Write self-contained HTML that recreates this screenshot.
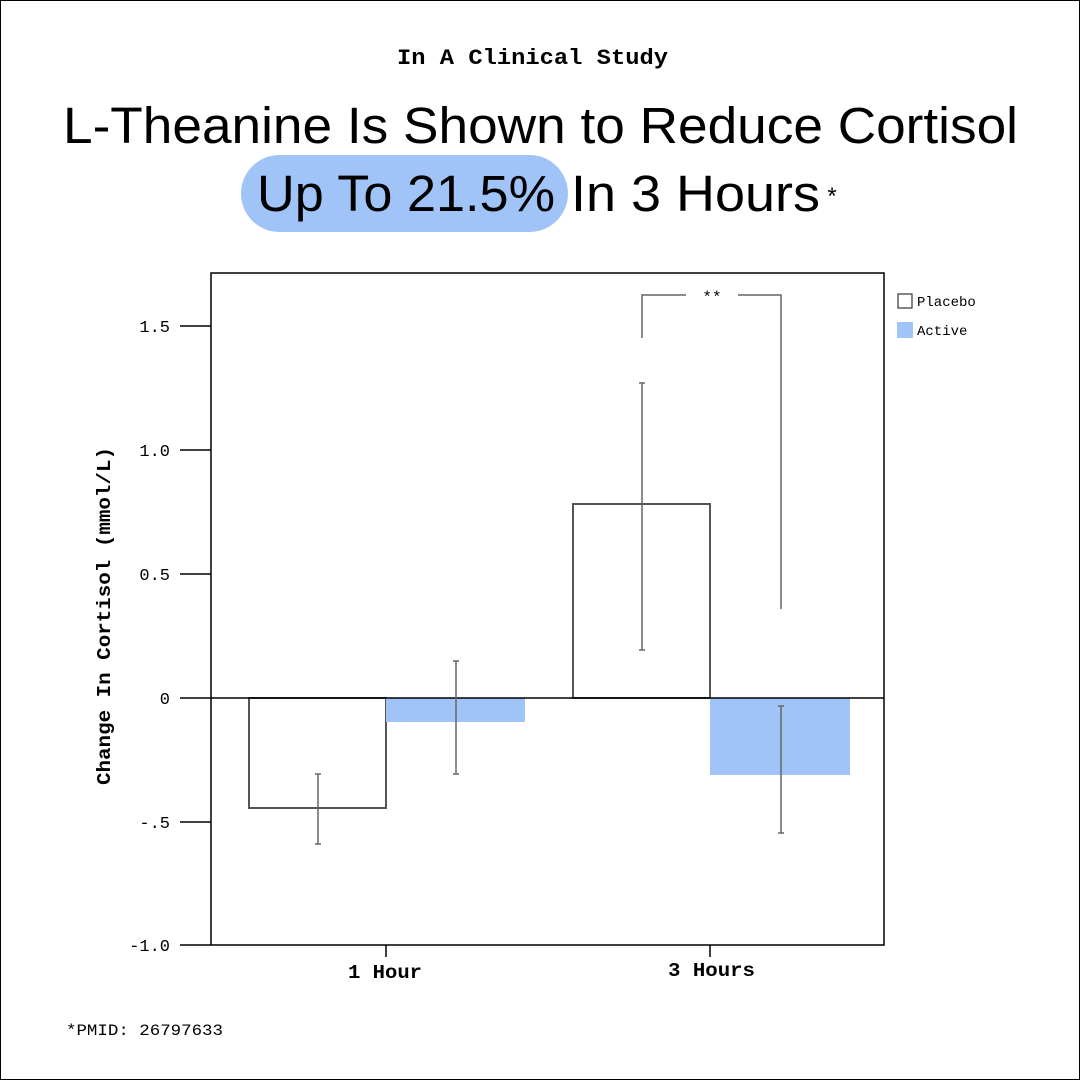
<!DOCTYPE html>
<html><head><meta charset="utf-8"><style>
html,body{margin:0;padding:0;background:#fff}
body{width:1080px;height:1080px;overflow:hidden}
</style></head><body>
<svg width="1080" height="1080" viewBox="0 0 1080 1080" xmlns="http://www.w3.org/2000/svg">
<rect x="0.5" y="0.5" width="1079" height="1079" fill="#fff" stroke="#000" stroke-width="1"/>
<text x="397" y="64" textLength="271" lengthAdjust="spacingAndGlyphs" font-family="Liberation Mono, monospace" font-weight="bold" font-size="22">In A Clinical Study</text>
<text x="63" y="143" textLength="955" lengthAdjust="spacingAndGlyphs" font-family="Liberation Sans, sans-serif" font-size="51">L-Theanine Is Shown to Reduce Cortisol</text>
<rect x="241" y="155" width="327" height="77" rx="38.5" fill="#a0c4f8"/>
<text x="257" y="211" textLength="298" lengthAdjust="spacingAndGlyphs" font-family="Liberation Sans, sans-serif" font-size="51">Up To 21.5%</text>
<text x="571" y="211" textLength="249" lengthAdjust="spacingAndGlyphs" font-family="Liberation Sans, sans-serif" font-size="51">In 3 Hours</text>
<text x="832" y="204" text-anchor="middle" font-family="Liberation Sans, sans-serif" font-size="24">*</text>

<rect x="249" y="698" width="137" height="110" fill="#fff" stroke="#555" stroke-width="2"/>
<rect x="386" y="698" width="139" height="24" fill="#a0c4f8"/>
<rect x="573" y="504" width="137" height="194" fill="#fff" stroke="#555" stroke-width="2"/>
<rect x="710" y="698" width="140" height="77" fill="#a0c4f8"/>

<line x1="211" y1="698" x2="884" y2="698" stroke="#000" stroke-width="1.5"/>

<g stroke="#666" stroke-width="1.5">
<line x1="318" y1="774" x2="318" y2="844"/><line x1="315" y1="774" x2="321" y2="774"/><line x1="315" y1="844" x2="321" y2="844"/>
<line x1="456" y1="661" x2="456" y2="774"/><line x1="453" y1="661" x2="459" y2="661"/><line x1="453" y1="774" x2="459" y2="774"/>
<line x1="642" y1="383" x2="642" y2="650"/><line x1="639" y1="383" x2="645" y2="383"/><line x1="639" y1="650" x2="645" y2="650"/>
<line x1="781" y1="706" x2="781" y2="833"/><line x1="778" y1="706" x2="784" y2="706"/><line x1="778" y1="833" x2="784" y2="833"/>
</g>
<g stroke="#666" stroke-width="1.5" fill="none">
<polyline points="642,338 642,295 686,295"/>
<polyline points="738,295 781,295 781,609"/>
</g>
<text x="712" y="302" text-anchor="middle" font-family="Liberation Mono, monospace" font-size="16">**</text>

<rect x="211" y="273" width="673" height="672" fill="none" stroke="#000" stroke-width="1.5"/>

<g stroke="#000" stroke-width="1.5">
<line x1="180" y1="326" x2="211" y2="326"/>
<line x1="180" y1="450" x2="211" y2="450"/>
<line x1="180" y1="574" x2="211" y2="574"/>
<line x1="180" y1="698" x2="211" y2="698"/>
<line x1="180" y1="822" x2="211" y2="822"/>
<line x1="180" y1="945" x2="211" y2="945"/>
<line x1="386" y1="945" x2="386" y2="957"/>
<line x1="710" y1="945" x2="710" y2="957"/>
</g>
<g font-family="Liberation Mono, monospace" font-size="17" text-anchor="end">
<text x="170" y="332">1.5</text>
<text x="170" y="456">1.0</text>
<text x="170" y="580">0.5</text>
<text x="170" y="704">0</text>
<text x="170" y="828">-.5</text>
<text x="170" y="951">-1.0</text>
</g>
<g font-family="Liberation Mono, monospace" font-size="19" font-weight="bold">
<text x="348" y="978" textLength="74" lengthAdjust="spacingAndGlyphs">1 Hour</text>
<text x="668" y="976" textLength="87" lengthAdjust="spacingAndGlyphs">3 Hours</text>
</g>
<text transform="translate(110,785) rotate(-90)" textLength="338" lengthAdjust="spacingAndGlyphs" font-family="Liberation Mono, monospace" font-size="19" font-weight="bold">Change In Cortisol (mmol/L)</text>

<rect x="898" y="294" width="14" height="14" fill="#fff" stroke="#333" stroke-width="1.2"/>
<text x="917" y="306" font-family="Liberation Mono, monospace" font-size="14">Placebo</text>
<rect x="897" y="322" width="16" height="16" fill="#a0c4f8"/>
<text x="917" y="335" font-family="Liberation Mono, monospace" font-size="14">Active</text>

<text x="66" y="1035" textLength="157" lengthAdjust="spacingAndGlyphs" font-family="Liberation Mono, monospace" font-size="16">*PMID: 26797633</text>
</svg>
</body></html>
